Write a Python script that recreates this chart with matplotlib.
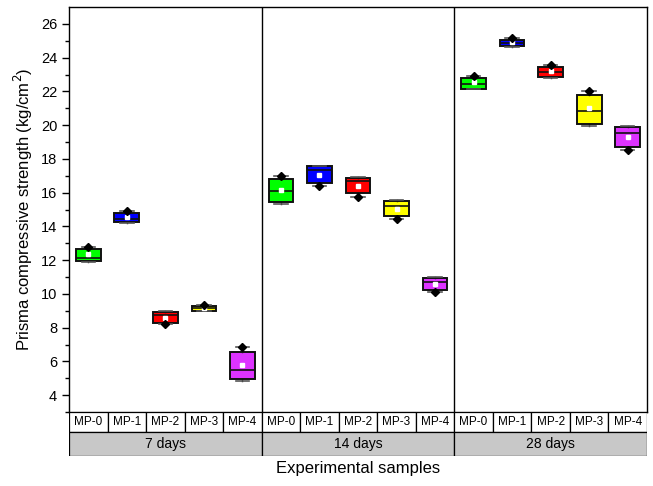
import numpy as np
import matplotlib
matplotlib.use("Agg")
import matplotlib.pyplot as plt
from matplotlib.patches import Rectangle

plt.rcParams["font.family"] = ["Liberation Sans", "DejaVu Sans"]

GROUPS  = ["7 days", "14 days", "28 days"]
SAMPLES = ["MP-0", "MP-1", "MP-2", "MP-3", "MP-4"]
COLORS  = ["#00ff00", "#0000ff", "#ff0000", "#ffff00", "#dd33ff"]

# per group: values for MP-0 .. MP-4
Q1     = [[11.93, 14.25, 8.29, 9.00, 4.95],
          [15.45, 16.60, 15.95, 14.61, 10.23],
          [22.16, 24.69, 22.87, 20.04, 18.70]]
MEDIAN = [[12.15, 14.45, 8.75, 9.15, 5.47],
          [16.09, 17.35, 16.66, 15.23, 10.72],
          [22.44, 24.87, 23.15, 20.85, 19.55]]
Q3     = [[12.65, 14.78, 8.94, 9.28, 6.57],
          [16.80, 17.55, 16.88, 15.50, 10.94],
          [22.77, 25.07, 23.44, 21.80, 19.86]]
MEAN   = [[12.35, 14.58, 8.59, 9.15, 5.80],
          [16.17, 17.06, 16.40, 15.02, 10.57],
          [22.53, 24.91, 23.19, 20.99, 19.29]]
VMIN   = [[11.90, 14.22, 8.20, 8.98, 4.85],
          [15.35, 16.42, 15.77, 14.45, 10.10],
          [22.12, 24.65, 22.82, 19.92, 18.50]]
VMAX   = [[12.80, 14.92, 8.96, 9.34, 6.83],
          [17.00, 17.60, 16.94, 15.55, 11.02],
          [22.93, 25.19, 23.56, 22.02, 19.96]]
# which extreme carries the black diamond marker
DIAMOND_AT = [["max", "max", "min", "max", "max"],
              ["max", "min", "min", "min", "min"],
              ["max", "max", "max", "max", "min"]]

fig = plt.figure(figsize=(6.53, 4.86), dpi=100)
W, H = 653, 486
L, R, T, B = 69, 647, 7, 412
ax = fig.add_axes([L / W, 1 - B / H, (R - L) / W, (B - T) / H])

n = len(SAMPLES)
for g in range(len(GROUPS)):
    stats, pos = [], []
    for i in range(n):
        stats.append(dict(q1=Q1[g][i], med=MEDIAN[g][i], q3=Q3[g][i],
                          whislo=VMIN[g][i], whishi=VMAX[g][i],
                          mean=MEAN[g][i], fliers=[]))
        pos.append(g * n + i + 1)
    bp = ax.bxp(stats, positions=pos, widths=0.64, patch_artist=True,
                showmeans=True, showfliers=False,
                boxprops=dict(edgecolor="#111111", linewidth=1.4),
                medianprops=dict(color="#111111", linewidth=1.2),
                whiskerprops=dict(color="#111111", linewidth=1.0),
                capprops=dict(color="#555555", linewidth=1.2),
                capwidths=0.35,
                meanprops=dict(marker="s", markerfacecolor="white",
                               markeredgecolor="white", markersize=3))
    for patch, c in zip(bp["boxes"], COLORS):
        patch.set_facecolor(c)
    for i in range(n):
        yv = VMAX[g][i] if DIAMOND_AT[g][i] == "max" else VMIN[g][i]
        ax.plot(pos[i], yv, marker="D", color="black", markersize=4,
                zorder=5)

for xs in (5.5, 10.5):
    ax.axvline(xs, color="black", linewidth=1.0)

ax.set_xlim(0.5, 15.5)
ax.set_ylim(3, 27)
ax.set_yticks(np.arange(4, 27, 2))
ax.set_yticks(np.arange(3, 27, 1), minor=True)
ax.set_xticks([])
ax.tick_params(axis="y", which="major", direction="out", length=5,
               width=1.0, labelsize=10.5)
ax.tick_params(axis="y", which="minor", direction="out", length=3, width=1.0)
for s in ax.spines.values():
    s.set_linewidth(1.0)
ax.set_ylabel("Prisma compressive strength (kg/cm$^2$)", fontsize=12,
              labelpad=4)

# category table under the plot
tab = fig.add_axes([L / W, 1 - 456 / H, (R - L) / W, 44 / H])
tab.set_xlim(0.5, 15.5)
tab.set_ylim(0, 2.2)
tab.axis("off")
for k in range(len(GROUPS) * n):
    tab.add_patch(Rectangle((k + 0.5, 1.2), 1, 1, facecolor="white",
                            edgecolor="black", linewidth=0.9))
    tab.text(k + 1, 1.7, SAMPLES[k % n], ha="center", va="center",
             fontsize=8.5)
for g, name in enumerate(GROUPS):
    tab.add_patch(Rectangle((g * n + 0.5, 0), n, 1.2, facecolor="#c8c8c8",
                            edgecolor="black", linewidth=0.9))
    tab.text(g * n + 3, 0.6, name, ha="center", va="center", fontsize=10)

fig.text((L + R) / 2 / W, 1 - 468 / H, "Experimental samples",
         ha="center", va="center", fontsize=12)

fig.savefig("out.png", dpi=100)
